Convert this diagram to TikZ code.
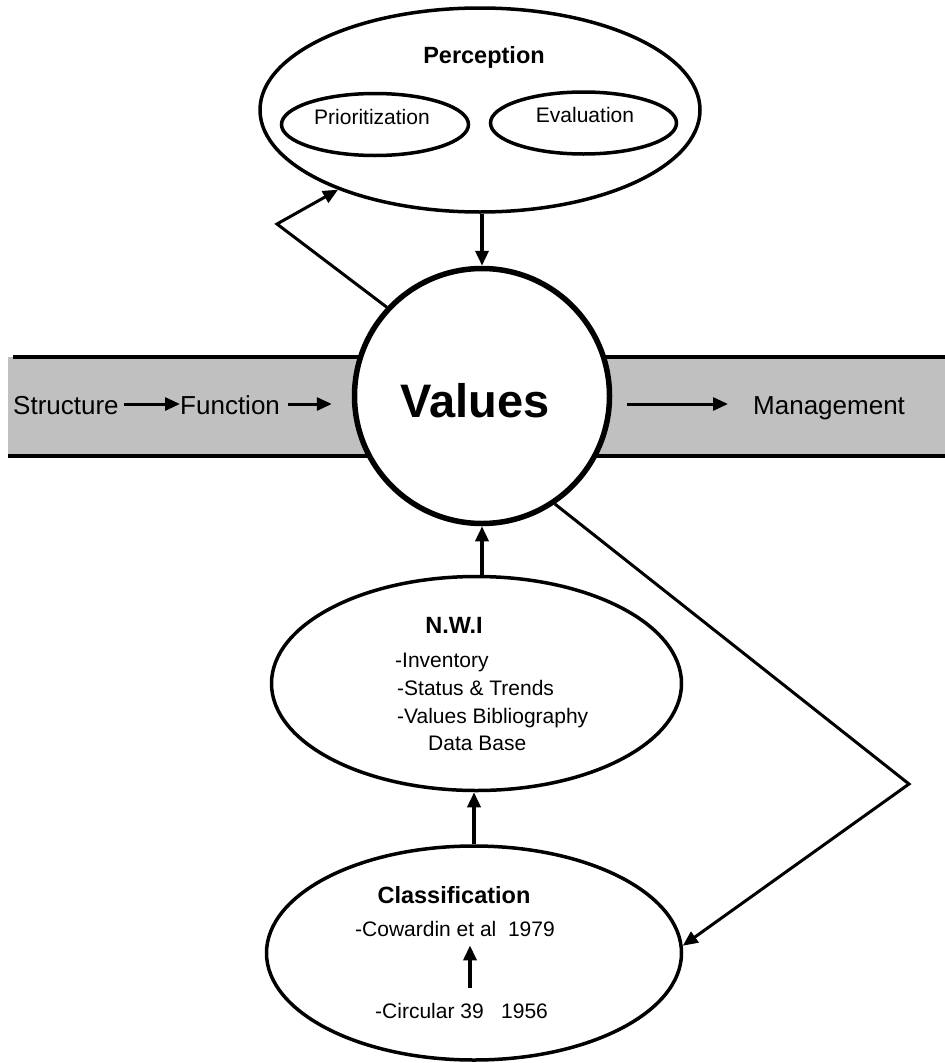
\documentclass[tikz,border=0pt]{standalone}
\usepackage{fontspec}
\setmainfont{Liberation Sans}
\usetikzlibrary{shapes.geometric,arrows.meta}
\definecolor{bandgray}{HTML}{C0C0C0}
\tikzset{
  oval/.style={draw, ellipse, line width=3.5pt, inner sep=0pt, fill=white},
  arr/.style={line width=3.5pt, -{Triangle[length=15pt,width=13pt]}},
  small/.style={font=\fontsize{21}{25}\selectfont, inner sep=0pt},
  bandtxt/.style={font=\fontsize{26}{30}\selectfont, inner sep=0pt, text height=20pt, text depth=0pt},
  head/.style={font=\fontsize{23.5}{28}\selectfont\bfseries, inner sep=0pt},
}
\begin{document}
\begin{tikzpicture}[x=1pt,y=-1pt]
\useasboundingbox (0,0) rectangle (945,1063);
% band
\fill[bandgray] (8,357) rectangle (945,456);
\draw[line width=3.5pt] (13,357) -- (945,357);
\draw[line width=3.5pt] (8,456) -- (945,456);

% Perception
\node[oval, minimum width=440pt, minimum height=204pt] (perc) at (480,110) {};
\node[head, anchor=base] (perct) at (484,63) {Perception};
\node[oval, minimum width=187pt, minimum height=62pt] (prio) at (375,124.5) {};
\node[small, anchor=base] (priot) at (372,124) {Prioritization};
\node[oval, minimum width=186pt, minimum height=62pt] (eval) at (583.5,123) {};
\node[small, anchor=base] (evalt) at (585,122) {Evaluation};

% Values
\node[circle, draw, line width=5.5pt, minimum size=255pt, inner sep=0pt, fill=white] (val) at (482,396) {};
\node[font=\fontsize{47}{52}\selectfont\bfseries, inner sep=0pt, anchor=base] (valt) at (475,417) {Values};

% band texts
\node[bandtxt, anchor=base west] (struct) at (13,414) {Structure};
\node[bandtxt, anchor=base west] (func) at (180,414) {Function};
\node[bandtxt, anchor=base west] (mgmt) at (753,414) {Management};

\draw[arr, line width=3pt, shorten <=5pt] (struct.east) -- (func.west);
\draw[arr, line width=3pt, shorten <=8pt, shorten >=20pt] (func.east) -- (func.east -| val.west);
\draw[arr, line width=3pt, shorten <=15pt, shorten >=25pt] (mgmt.west -| val.east) -- (mgmt.west);

% NWI
\node[oval, minimum width=410pt, minimum height=214pt] (nwi) at (476.5,683.5) {};
\node[head, anchor=base] (nwit) at (454,633) {N.W.I};
\node[small, anchor=base west] (inv) at (395,667) {-Inventory};
\node[small, anchor=base west] (stat) at (397,695) {-Status \& Trends};
\node[small, anchor=base west] (bib) at (397,723) {-Values Bibliography};
\node[small, anchor=base west] (db) at (428,750) {Data Base};

% Classification
\node[oval, minimum width=415pt, minimum height=214pt] (class) at (474,953) {};
\node[head, anchor=base] (classt) at (454,903) {Classification};
\node[small, anchor=base west] (cow) at (355,936) {-Cowardin et al\ \ 1979};
\node[small, anchor=base west] (circ) at (375,1018) {-Circular 39\ \ \ 1956};
\coordinate (ax) at (470,0);
\draw[arr, shorten <=15pt, shorten >=9pt] (circ.north -| ax) -- (cow.south -| ax);

% connectors
\draw[arr] (val.north |- perc.south) -- (val.north);
\draw[arr] (val.south |- nwi.north) -- (val.south);
\draw[arr] (class.north) -- (class.north |- nwi.south);

\coordinate (fb) at (277,224);
\draw[arr, line width=3pt] (val.137) -- (fb) -- (perc);

\coordinate (rt) at (909,784);
\draw[arr, line width=3pt] (val.-56) -- (rt) -- (class.2);
\end{tikzpicture}
\end{document}
